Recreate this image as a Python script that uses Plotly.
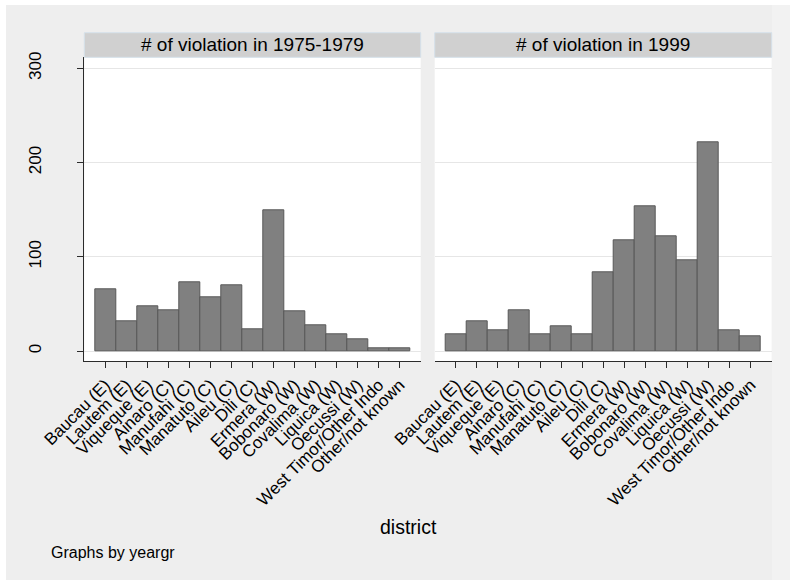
import plotly.graph_objects as go

W, H = 790, 580

districts = ["Baucau (E)", "Lautem (E)", "Viqueque (E)", "Ainaro (C)", "Manufahi (C)",
             "Manatuto (C)", "Aileu (C)", "Dili (C)", "Ermera (W)", "Bobonaro (W)",
             "Covalima (W)", "Liquica (W)", "Oecussi (W)", "West Timor/Other Indo",
             "Other/not known"]
violations_1975_1979 = [65, 32, 47, 43, 73, 57, 70, 23, 149, 42, 27, 18, 12, 3, 3]
violations_1999 = [18, 32, 22, 43, 18, 26, 18, 84, 118, 154, 122, 96, 222, 22, 16]
panel_titles = ["# of violation in 1975-1979", "# of violation in 1999"]
y_ticks = [0, 100, 200, 300]

FONT = "Liberation Sans, Arial, Helvetica, sans-serif"

def px_x(p):
    return p / W

def px_y(p):
    return (H - p) / H

left_dom = [px_x(84.3), px_x(420.7)]
right_dom = [px_x(434.7), px_x(771.7)]
y_dom = [px_y(361.3), px_y(57.3)]

fig = go.Figure()
for vals, xa, ya in [(violations_1975_1979, "x", "y"), (violations_1999, "x2", "y2")]:
    fig.add_trace(go.Bar(
        x=districts, y=vals, xaxis=xa, yaxis=ya,
        marker=dict(color="#808080", line=dict(color="#575757", width=1)),
        showlegend=False, hoverinfo="x+y",
    ))

common_x = dict(
    type="category", range=[-1, 15], showgrid=False, zeroline=False,
    showline=True, linecolor="#2b2b2b", linewidth=1,
    tickmode="array", tickvals=districts, ticktext=districts,
    ticks="outside", ticklen=6, tickcolor="#2b2b2b", tickwidth=1,
    tickangle=-45, tickfont=dict(family=FONT, size=17, color="#000000"),
    fixedrange=True, automargin=False,
)
common_y = dict(
    range=[-10.9, 311.7], tickmode="array", tickvals=y_ticks, showgrid=True,
    gridcolor="#E6E6E6", gridwidth=1, zeroline=False, domain=y_dom,
    fixedrange=True, automargin=False,
)

fig.update_layout(
    template="none",
    width=W, height=H,
    margin=dict(l=0, r=0, t=0, b=0, pad=0, autoexpand=False),
    paper_bgcolor="#EEEEEE",
    plot_bgcolor="#FFFFFF",
    bargap=0,
    xaxis=dict(common_x, domain=left_dom, anchor="y"),
    xaxis2=dict(common_x, domain=right_dom, anchor="y2"),
    yaxis=dict(common_y, anchor="x", showline=True, linecolor="#2b2b2b", linewidth=1,
               ticks="outside", ticklen=6, tickcolor="#2b2b2b", tickwidth=1,
               tickangle=-90, ticklabelstandoff=30,
               tickfont=dict(family=FONT, size=17, color="#000000")),
    yaxis2=dict(common_y, anchor="x2", showline=False, ticks="", showticklabels=False,
                matches="y"),
    font=dict(family=FONT, color="#000000"),
)

shapes = [
    # outer border outside the graph region
    dict(type="rect", xref="paper", yref="paper", x0=0, x1=1,
         y0=px_y(5), y1=1, fillcolor="#FFFFFF", line=dict(width=0), layer="below"),
    dict(type="rect", xref="paper", yref="paper", x0=0, x1=px_x(6),
         y0=0, y1=1, fillcolor="#FFFFFF", line=dict(width=0), layer="below"),
    dict(type="rect", xref="paper", yref="paper", x0=px_x(772), x1=1,
         y0=0, y1=px_y(5), fillcolor="#F2F2F2", line=dict(width=0), layer="below"),
]
annotations = []
for dom, title in zip([left_dom, right_dom], panel_titles):
    shapes.append(dict(type="rect", xref="paper", yref="paper", x0=dom[0], x1=dom[1],
                       y0=px_y(57.3), y1=px_y(32.7), fillcolor="#D0D0D0",
                       line=dict(color="#D5E1EA", width=1), layer="above"))
    annotations.append(dict(text=title, xref="paper", yref="paper",
                            x=(dom[0] + dom[1]) / 2, y=px_y(45), xanchor="center",
                            yanchor="middle", showarrow=False,
                            font=dict(family=FONT, size=19, color="#000000")))

annotations.append(dict(text="district", xref="paper", yref="paper", x=px_x(408),
                        y=px_y(527), xanchor="center", yanchor="middle", showarrow=False,
                        font=dict(family=FONT, size=19.5, color="#000000")))
annotations.append(dict(text="Graphs by yeargr", xref="paper", yref="paper", x=px_x(49),
                        y=px_y(552), xanchor="left", yanchor="middle", showarrow=False,
                        font=dict(family=FONT, size=16, color="#000000")))

fig.update_layout(shapes=shapes, annotations=annotations)
fig.write_html("out.html", config={"displayModeBar": False},
               post_script="document.body.style.margin='0px';document.body.style.padding='0px';")
